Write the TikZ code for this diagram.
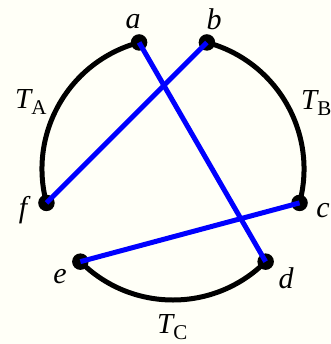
\documentclass[tikz,border=0pt]{standalone}
\usepackage{fontspec}
\setmainfont{Liberation Serif}
\definecolor{bgivory}{RGB}{255,255,247}
\definecolor{chordblue}{RGB}{0,0,255}
\tikzset{
  endpt/.style={circle,fill=black,inner sep=0pt,minimum size=16.5pt},
  arcline/.style={line width=5pt,black},
  chord/.style={line width=5pt,chordblue},
  ptlabel/.style={inner sep=0pt,font=\fontsize{30}{30}\selectfont\itshape},
  tlabel/.style={inner sep=0pt,anchor=base west}
}
\newcommand{\Tsub}[1]{{\fontsize{29}{29}\selectfont\itshape T}\raisebox{-6pt}{\fontsize{21}{21}\selectfont #1}}
\begin{document}
\begin{tikzpicture}
\fill[bgivory] (0pt,0pt) rectangle (330pt,-344pt);
\useasboundingbox (0pt,0pt) rectangle (330pt,-344pt);
\begin{scope}[shift={(173pt,-169pt)}]
  \coordinate (ca) at (105:131pt);
  \coordinate (cb) at (75:131pt);
  \coordinate (cc) at (-15:131pt);
  \coordinate (cd) at (-45:131pt);
  \coordinate (ce) at (225:131pt);
  \coordinate (cf) at (195:131pt);
  \draw[arcline] (cf) arc[start angle=195,end angle=105,radius=131pt];
  \draw[arcline] (cb) arc[start angle=75,end angle=-15,radius=131pt];
  \draw[arcline] (cd) arc[start angle=-45,end angle=-135,radius=131pt];
  \node[endpt] (a) at (ca) {};
  \node[endpt] (b) at (cb) {};
  \node[endpt] (c) at (cc) {};
  \node[endpt] (d) at (cd) {};
  \node[endpt] (e) at (ce) {};
  \node[endpt] (f) at (cf) {};
  \draw[chord] (a.center) -- (d.center);
  \draw[chord] (b.center) -- (f.center);
  \draw[chord] (c.center) -- (e.center);
\end{scope}
\node[ptlabel] (la) at (133pt,-22pt) {a};
\node[ptlabel] (lb) at (214pt,-19pt) {b};
\node[ptlabel] (lc) at (323pt,-211pt) {c};
\node[ptlabel] (ld) at (286pt,-278pt) {d};
\node[ptlabel] (le) at (60pt,-277pt) {e};
\node[ptlabel] (lf) at (23pt,-210pt) {f};
\node[tlabel] (TA) at (15pt,-109pt) {\Tsub{A}};
\node[tlabel] (TB) at (301pt,-110pt) {\Tsub{B}};
\node[tlabel] (TC) at (157pt,-333pt) {\Tsub{C}};
\end{tikzpicture}
\end{document}
